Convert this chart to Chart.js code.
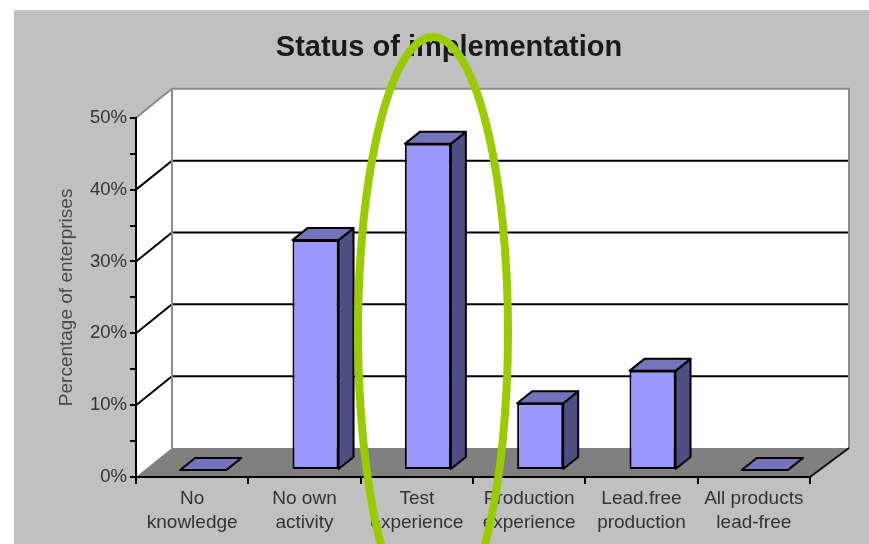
<!DOCTYPE html>
<html>
<head>
<meta charset="utf-8">
<title>Status of implementation</title>
<script src="https://cdn.jsdelivr.net/npm/chart.js@4"></script>
<style>
    html, body { margin: 0; padding: 0; background: #fff; overflow: hidden; }
    #statusChart { display: block; filter: blur(0.7px); }
</style>
</head>
<body>
<canvas id="statusChart" width="869" height="544"></canvas>
<script>
const categories = [['No', 'knowledge'], ['No own', 'activity'], ['Test', 'experience'],
    ['Production', 'experience'], ['Lead.free', 'production'], ['All products', 'lead-free']];
const enterprises = [0, 32, 45.4, 9.3, 13.8, 0];
const gridValues = [10, 20, 30, 40];

const FONT = '"Liberation Sans", Arial, sans-serif';

// fake 3D: wall depth and where the bars sit inside it
const WALL = { left: 36, right: 39, up: 29 };
const BAR_SHIFT = { x: 11, y: -7 };
const BAR_DEPTH = { x: 15, y: -12 };

function poly(ctx, pts, fill, stroke, lineWidth) {
    ctx.beginPath();
    pts.forEach((p, i) => i ? ctx.lineTo(p[0], p[1]) : ctx.moveTo(p[0], p[1]));
    ctx.closePath();
    if (fill) { ctx.fillStyle = fill; ctx.fill(); }
    if (stroke) { ctx.strokeStyle = stroke; ctx.lineWidth = lineWidth; ctx.stroke(); }
}

function line(ctx, pts, color, width) {
    ctx.beginPath();
    pts.forEach((p, i) => i ? ctx.lineTo(p[0], p[1]) : ctx.moveTo(p[0], p[1]));
    ctx.strokeStyle = color;
    ctx.lineWidth = width;
    ctx.stroke();
}

const box3d = {
    id: 'box3d',
    beforeDraw(chart) {
        const ctx = chart.ctx;
        const xs = chart.scales.x, ys = chart.scales.y;
        const l = xs.left, r = xs.right;
        const top = ys.getPixelForValue(50), bottom = ys.getPixelForValue(0);
        const backL = l + WALL.left, backR = r + WALL.right;

        // grey panel, the white strip on the left and top stays
        ctx.fillStyle = '#c0c0c0';
        ctx.fillRect(14, 10, 855, 534);

        poly(ctx, [[backL, top - WALL.up], [backR, top - WALL.up], [backR, bottom - WALL.up], [backL, bottom - WALL.up]], '#fff');
        poly(ctx, [[l, top], [backL, top - WALL.up], [backL, bottom - WALL.up], [l, bottom]], '#fff');
        poly(ctx, [[l, bottom], [backL, bottom - WALL.up], [backR, bottom - WALL.up], [r, bottom]], '#808080');

        gridValues.forEach(v => {
            const y = ys.getPixelForValue(v);
            line(ctx, [[l, y], [backL, y - WALL.up], [backR, y - WALL.up]], '#000', 2);
        });

        line(ctx, [[l, top], [backL, top - WALL.up], [backR, top - WALL.up], [backR, bottom - WALL.up]], '#8c8c8c', 2);
        line(ctx, [[backL, top - WALL.up], [backL, bottom - WALL.up]], '#8c8c8c', 2);
        line(ctx, [[r, bottom], [backR, bottom - WALL.up]], '#111', 2);
    },
    beforeDatasetDraw(chart, args) {
        const ctx = chart.ctx;
        ctx.save();
        ctx.translate(BAR_SHIFT.x, BAR_SHIFT.y);
        ctx.lineJoin = 'round';
        args.meta.data.forEach(bar => {
            const a = bar.x - bar.width / 2, b = bar.x + bar.width / 2;
            const dx = BAR_DEPTH.x, dy = BAR_DEPTH.y;
            poly(ctx, [[b, bar.y], [b + dx, bar.y + dy], [b + dx, bar.base + dy], [b, bar.base]], '#4f4f85', '#000', 2);
            poly(ctx, [[a, bar.y], [a + dx, bar.y + dy], [b + dx, bar.y + dy], [b, bar.y]], '#7474bd', '#000', 2);
        });
    },
    afterDatasetDraw(chart) {
        chart.ctx.restore();
    },
    afterDraw(chart) {
        // green hand-drawn style ring over the middle bar
        const ctx = chart.ctx;
        ctx.beginPath();
        ctx.ellipse(433, 332, 75, 295, 0, 0, Math.PI * 2);
        ctx.strokeStyle = '#99cc00';
        ctx.lineWidth = 8;
        ctx.stroke();
    }
};

new Chart(document.getElementById('statusChart'), {
    type: 'bar',
    plugins: [box3d],
    data: {
        labels: categories,
        datasets: [{
            label: 'Percentage of enterprises',
            data: enterprises,
            backgroundColor: '#9999ff',
            borderColor: '#000',
            borderWidth: 2,
            borderSkipped: false,
            barPercentage: 0.41,
            categoryPercentage: 1,
            clip: false
        }]
    },
    options: {
        responsive: false,
        animation: false,
        layout: { padding: { left: 88, right: 59, top: 0, bottom: 0 } },
        plugins: {
            legend: { display: false },
            tooltip: { enabled: false },
            title: {
                display: true,
                text: 'Status of implementation',
                color: '#1a1a1a',
                font: { family: FONT, size: 29, weight: 'bold', lineHeight: 1.2 },
                padding: { top: 31, bottom: 52 }
            }
        },
        scales: {
            x: {
                grid: { drawOnChartArea: false, tickLength: 7, color: '#000', lineWidth: 2 },
                border: { color: '#000', width: 2 },
                ticks: {
                    color: '#333',
                    padding: 3,
                    maxRotation: 0,
                    autoSkip: false,
                    font: { family: FONT, size: 19, lineHeight: 1.26 }
                },
                afterFit(scale) { scale.height = 67; }
            },
            y: {
                min: 0,
                max: 50,
                grid: { drawOnChartArea: false, tickLength: 6, color: '#000', lineWidth: 2 },
                border: { color: '#000', width: 2 },
                ticks: {
                    stepSize: 5,
                    color: '#333',
                    padding: 3,
                    font: { family: FONT, size: 18.5 },
                    callback: v => v % 10 === 0 ? v + '%' : ''
                },
                title: {
                    display: true,
                    text: 'Percentage of enterprises',
                    color: '#484848',
                    font: { family: FONT, size: 19 },
                    padding: { top: -33, bottom: 0 }
                },
                afterFit(scale) { scale.width = 48; }
            }
        }
    }
});
</script>
</body>
</html>
